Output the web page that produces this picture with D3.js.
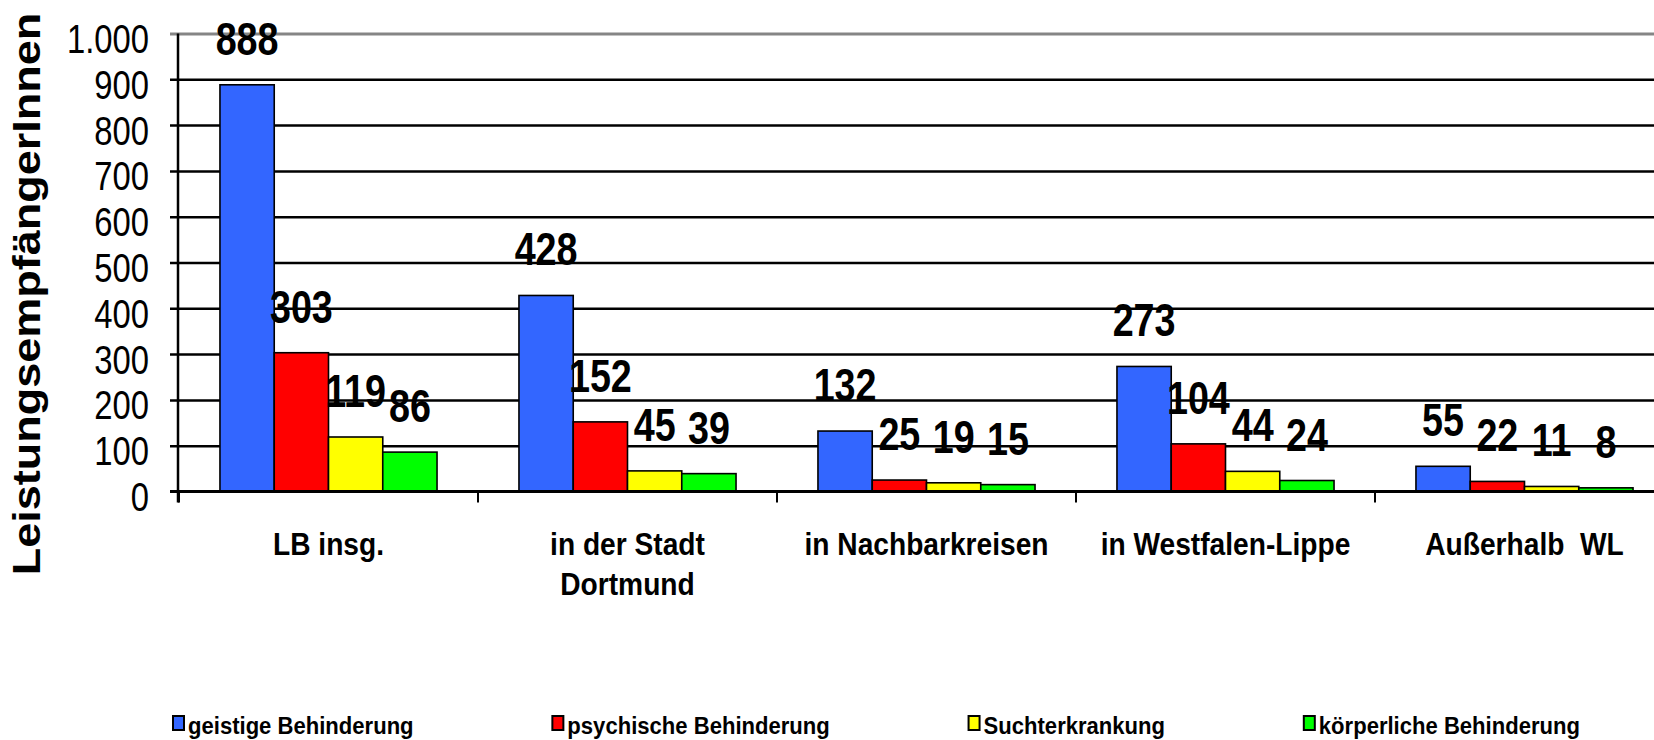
<!DOCTYPE html>
<html>
<head>
<meta charset="utf-8">
<script src="https://cdn.jsdelivr.net/npm/d3@7"></script>
<style>
  body { margin: 0; background: #fff; }
  text { font-family: "Liberation Sans", Arial, sans-serif; white-space: pre; }
</style>
</head>
<body>
<svg id="chart" width="1654" height="740"></svg>
<script>
// data
var categories = ["LB insg.", "in der Stadt\nDortmund", "in Nachbarkreisen", "in Westfalen-Lippe", "Außerhalb  WL"];
var series = ["geistige Behinderung", "psychische Behinderung", "Suchterkrankung", "körperliche Behinderung"];
var geistig   = [888, 428, 132, 273, 55];
var psychisch = [303, 152, 25, 104, 22];
var sucht     = [119, 45, 19, 44, 11];
var koerper   = [86, 39, 15, 24, 8];
var yTicks = [0, 100, 200, 300, 400, 500, 600, 700, 800, 900, 1000];
var colors = ["#3366ff", "#ff0000", "#ffff00", "#00ff00"];
var yTitle = "LeistungsempfängerInnen";

var values = [geistig, psychisch, sucht, koerper];
var W = 1654;

var svg = d3.select("#chart");

var x0 = d3.scaleBand().domain(categories).range([179, 1674])
    .paddingInner(0.274).paddingOuter(0.137);
var x1 = d3.scaleBand().domain(series).range([0, x0.bandwidth()]);
var y = d3.scaleLinear().domain([0, 1000]).range([491.5, 33.5]);
var color = d3.scaleOrdinal().domain(series).range(colors);

var de = d3.formatLocale({decimal: ",", thousands: ".", grouping: [3], currency: ["", "€"]});
var fmt = de.format(",");

// gridlines
svg.append("g")
    .attr("transform", "translate(170,0)")
    .call(d3.axisLeft(y).tickValues(yTicks.slice(1)).tickSize(-(W - 170)).tickFormat(""))
    .call(g => g.select(".domain").remove())
    .selectAll("line")
      .attr("stroke", d => d === 1000 ? "#858585" : "#000")
      .attr("stroke-width", d => d === 1000 ? 3 : 2.5);

// y tick labels
var yAx = svg.append("g")
    .attr("transform", "translate(178,0)")
    .call(d3.axisLeft(y).tickValues(yTicks).tickSize(0).tickPadding(0).tickFormat(fmt));
yAx.select(".domain").remove();
yAx.selectAll("text")
    .attr("x", null).attr("dy", null)
    .attr("transform", "translate(-29,19) scale(0.8,1)")
    .style("font-size", "41px")
    .attr("fill", "#000");

// y axis line
svg.append("line")
    .attr("x1", 178).attr("x2", 178)
    .attr("y1", y(1000)).attr("y2", y(0) + 11)
    .attr("stroke", "#000").attr("stroke-width", 2.5);

// bars
var groups = svg.selectAll("g.grp")
  .data(categories)
  .join("g")
    .attr("class", "grp")
    .attr("transform", c => "translate(" + x0(c) + ",0)");

groups.selectAll("rect")
  .data((c, i) => series.map((s, j) => ({s: s, v: values[j][i]})))
  .join("rect")
    .attr("x", d => x1(d.s))
    .attr("y", d => y(d.v))
    .attr("width", x1.bandwidth())
    .attr("height", d => y(0) - y(d.v))
    .attr("fill", d => color(d.s))
    .attr("stroke", "#000")
    .attr("stroke-width", 1.6);

groups.selectAll("text.val")
  .data((c, i) => series.map((s, j) => ({s: s, v: values[j][i]})))
  .join("text")
    .attr("class", "val")
    .attr("transform", d => "translate(" + (x1(d.s) + x1.bandwidth() / 2) + "," + (y(d.v) - 30) + ") scale(0.82,1)")
    .attr("text-anchor", "middle")
    .style("font-size", "46px")
    .style("font-weight", "bold")
    .text(d => d.v);

// x axis baseline and ticks
svg.append("line")
    .attr("x1", 170).attr("x2", W)
    .attr("y1", y(0)).attr("y2", y(0))
    .attr("stroke", "#000").attr("stroke-width", 3);

var half = (x0.step() - x0.bandwidth()) / 2;
svg.selectAll("line.xt")
  .data(categories)
  .join("line")
    .attr("class", "xt")
    .attr("x1", c => x0(c) - half).attr("x2", c => x0(c) - half)
    .attr("y1", y(0)).attr("y2", y(0) + 11)
    .attr("stroke", "#000").attr("stroke-width", 2);

// category labels
svg.selectAll("text.cat")
  .data(categories)
  .join("text")
    .attr("class", "cat")
    .attr("transform", c => "translate(" + (x0(c) + x0.bandwidth() / 2) + ",555) scale(0.88,1)")
    .attr("text-anchor", "middle")
    .style("font-size", "32px")
    .style("font-weight", "bold")
    .selectAll("tspan")
    .data(c => c.split("\n"))
    .join("tspan")
      .attr("x", 0)
      .attr("dy", (d, i) => i ? 40 : 0)
      .text(d => d);

// y title
svg.append("text")
    .attr("transform", "translate(40,294) rotate(-90) scale(1,0.85)")
    .attr("text-anchor", "middle")
    .style("font-size", "45px")
    .style("font-weight", "bold")
    .text(yTitle);

// legend
var legScale = 0.92;
var leg = svg.append("g").attr("class", "legend");
var items = leg.selectAll("g")
  .data(series)
  .join("g");
items.append("rect")
    .attr("x", 0).attr("y", -18)
    .attr("width", 11).attr("height", 14)
    .attr("fill", d => color(d))
    .attr("stroke", "#000").attr("stroke-width", 2);
items.append("text")
    .attr("transform", "translate(15,0) scale(" + legScale + ",1)")
    .style("font-size", "24px")
    .style("font-weight", "bold")
    .text(d => d);

var widths = [];
items.each(function() { widths.push(15 + this.querySelector("text").getComputedTextLength() * legScale); });
var legStart = 173, legEnd = 1580;
var gap = (legEnd - legStart - d3.sum(widths)) / (series.length - 1);
var pos = legStart;
items.attr("transform", (d, i) => {
  var t = "translate(" + pos + ",734)";
  pos += widths[i] + gap;
  return t;
});
</script>
</body>
</html>
